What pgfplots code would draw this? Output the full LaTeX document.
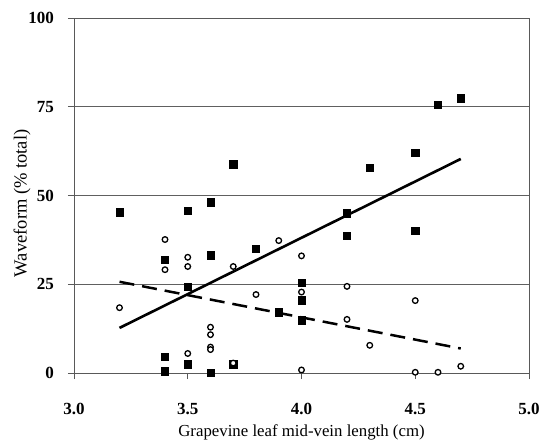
\documentclass[border=0pt]{standalone}
\usepackage{fontspec}
\setmainfont{Liberation Serif}
\usepackage{pgfplots}
\pgfplotsset{compat=1.18}

\begin{document}
\begin{tikzpicture}
\begin{axis}[
  scale only axis, width=455pt, height=355pt,
  xmin=3, xmax=5, ymin=0, ymax=100,
  xtick={3,3.5,4,4.5,5}, ytick={0,25,50,75,100},
  xtick pos=bottom, ytick pos=left,
  /pgf/number format/assume math mode=true,
  tick label style={font=\fontsize{17}{19}\selectfont\bfseries, inner sep=0pt},
  xticklabel style={/pgf/number format/fixed, /pgf/number format/fixed zerofill,
                    /pgf/number format/precision=1, anchor=base, yshift=-35pt},
  yticklabel style={anchor=east, xshift=-14pt},
  xlabel={Grapevine leaf mid-vein length (cm)},
  ylabel={Waveform (\% total)},
  xlabel style={font=\fontsize{16.8}{19}\selectfont,
                at={(axis description cs:0.5,-0.1775)}, anchor=base},
  ylabel style={font=\fontsize{18.5}{21}\selectfont,
                at={(axis description cs:-0.114,0.478)}, anchor=center},
  axis line style={gray!70!black, line width=0.9pt},
  tick style={gray!70!black, line width=0.9pt},
  tick align=outside, major tick length=6pt,
  ymajorgrids, grid style={gray!75!black, line width=0.8pt},
  clip=false,
]
% keep the margins of the reference
\path (rel axis cs:0,0) ++(-74pt,-68pt);
\path (rel axis cs:1,1) ++(12pt,18pt);
% regression lines
\addplot[black, line width=2.6pt] coordinates {(3.2,12.7) (4.7,60.3)};
\addplot[black, line width=2.5pt, dash pattern=on 15pt off 8pt] coordinates {(3.2,25.7) (4.7,6.9)};
% filled squares
\addplot[only marks, mark=square*, mark size=3.6pt, black] coordinates {
  (3.2,45.3) (3.5,45.7) (3.6,48.1) (3.4,32.0) (3.6,33.2) (3.5,24.4)
  (3.8,35.1) (4.0,25.5) (4.0,20.5) (4.0,14.9) (3.9,17.1)
  (3.4,4.5) (3.4,0.5) (3.5,2.5) (3.6,0.1) (3.7,2.5)
  (3.7,58.8) (4.7,77.4) (4.6,75.5) (4.5,62.1) (4.3,57.9)
  (4.2,45.0) (4.2,38.6) (4.5,40.0)
};
% open circles
\addplot[only marks, mark=*, mark size=2.8pt, black, fill=white, line width=1.3pt] coordinates {
  (3.2,18.4) (3.4,37.6) (3.4,29.1) (3.5,32.6) (3.5,30.0) (3.7,30.0)
  (3.9,37.3) (4.0,33.0) (3.8,22.1) (4.0,22.8)
  (3.6,12.9) (3.6,10.8) (3.6,7.3) (3.6,6.6) (3.5,5.5) (3.7,2.8) (4.0,0.85)
  (4.2,24.4) (4.5,20.4) (4.2,15.1) (4.3,7.8)
  (4.5,0.2) (4.6,0.2) (4.7,1.9)
};
\end{axis}
\end{tikzpicture}
\end{document}
